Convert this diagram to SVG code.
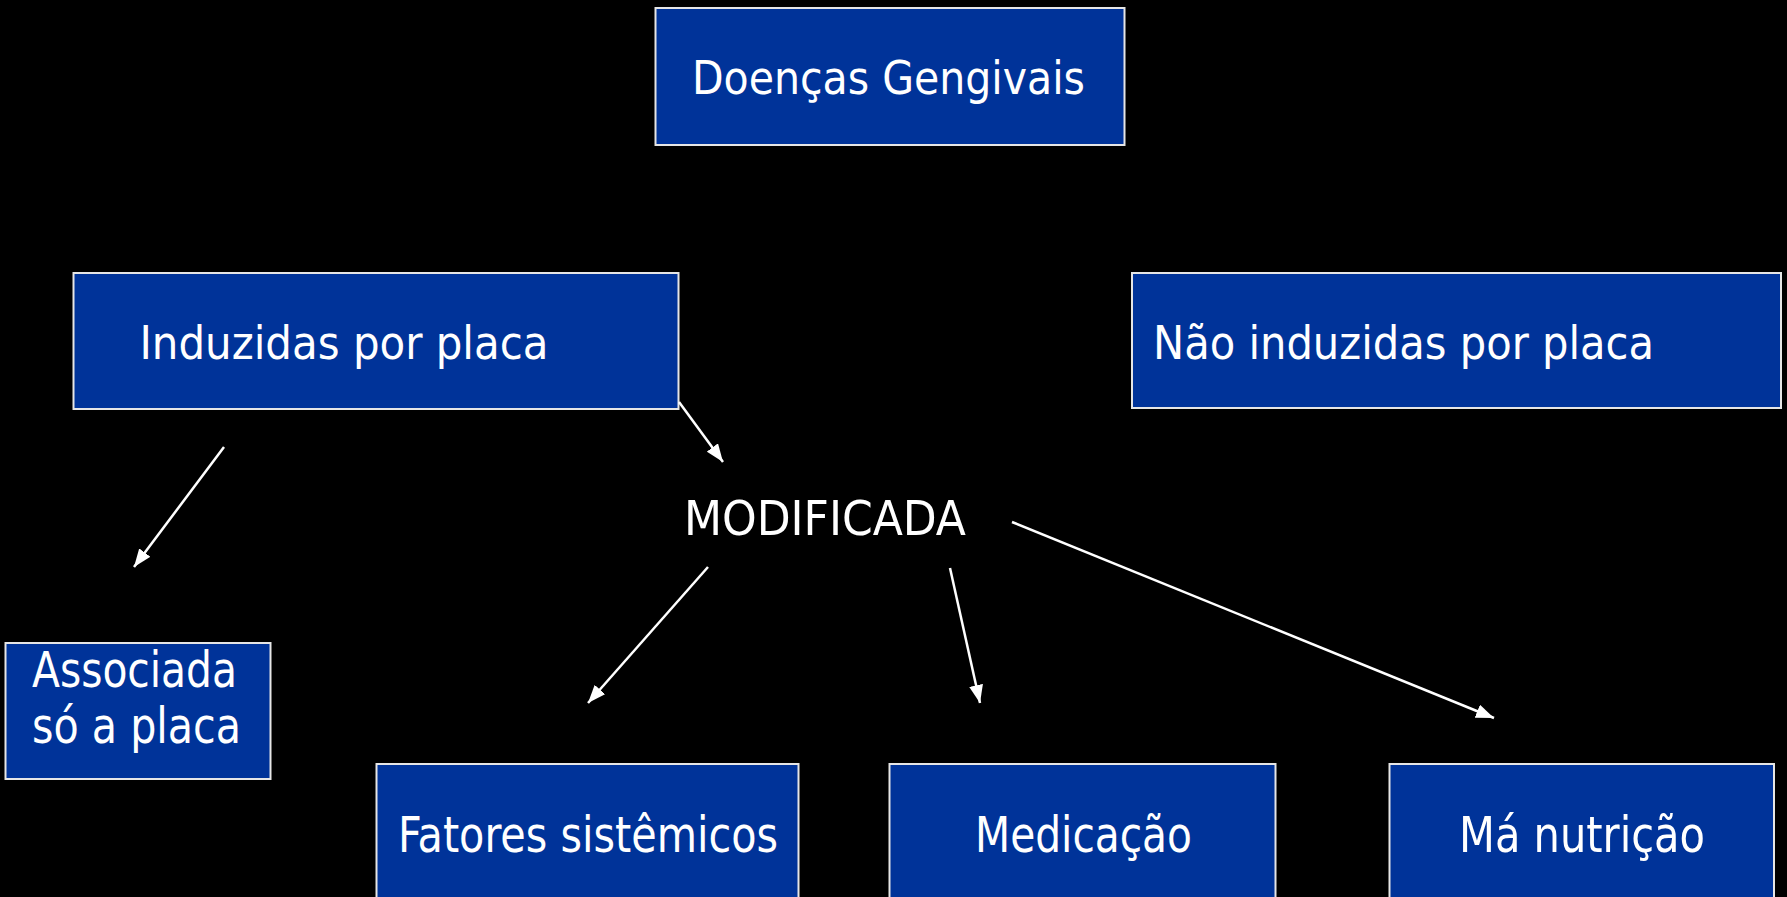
<svg xmlns="http://www.w3.org/2000/svg" width="1787" height="897" viewBox="0 0 1787 897">
<style>
.box{fill:#003399;stroke:#e6e6e6;stroke-width:2}
.t{fill:#ffffff;font-family:"DejaVu Sans Condensed","DejaVu Sans",Verdana,sans-serif;font-stretch:condensed}
.c{stroke:#ffffff;stroke-width:2.5;fill:none}
</style>
<defs>
<marker id="ah" markerUnits="userSpaceOnUse" markerWidth="19" markerHeight="14" refX="18" refY="7" orient="auto" viewBox="0 0 19 14">
<path d="M0,0 L18,7 L0,14 Z" fill="#ffffff"/>
</marker>
</defs>
<rect x="0" y="0" width="1787" height="897" fill="#000000"/>
<g id="doencas">
<rect class="box" x="655.5" y="8" width="469" height="137"/>
<text class="t" x="692" y="94" font-size="46" textLength="393" lengthAdjust="spacingAndGlyphs">Doenças Gengivais</text>
</g>
<g id="induzidas">
<rect class="box" x="73.5" y="273" width="605" height="136"/>
<text class="t" x="139.5" y="359" font-size="47" textLength="409" lengthAdjust="spacingAndGlyphs">Induzidas por placa</text>
</g>
<g id="nao-induzidas">
<rect class="box" x="1132" y="273" width="649" height="135"/>
<text class="t" x="1153" y="359" font-size="47" textLength="501" lengthAdjust="spacingAndGlyphs">Não induzidas por placa</text>
</g>
<g id="modificada">
<text class="t" x="684" y="535" font-size="48" textLength="282" lengthAdjust="spacingAndGlyphs">MODIFICADA</text>
</g>
<g id="associada">
<rect class="box" x="5.5" y="643" width="265" height="136"/>
<text class="t" x="32" y="687" font-size="50" textLength="205" lengthAdjust="spacingAndGlyphs">Associada</text>
<text class="t" x="32" y="743" font-size="50" textLength="209" lengthAdjust="spacingAndGlyphs">só a placa</text>
</g>
<g id="fatores">
<rect class="box" x="376.5" y="764" width="422" height="150"/>
<text class="t" x="398" y="852" font-size="50" textLength="380" lengthAdjust="spacingAndGlyphs">Fatores sistêmicos</text>
</g>
<g id="medicacao">
<rect class="box" x="889.5" y="764" width="386" height="150"/>
<text class="t" x="975" y="852" font-size="50" textLength="217" lengthAdjust="spacingAndGlyphs">Medicação</text>
</g>
<g id="ma-nutricao">
<rect class="box" x="1389.5" y="764" width="384.5" height="150"/>
<text class="t" x="1459" y="852" font-size="50" textLength="246" lengthAdjust="spacingAndGlyphs">Má nutrição</text>
</g>
<g id="connectors">
<line class="c" x1="679" y1="402" x2="723" y2="462" marker-end="url(#ah)"/>
<line class="c" x1="224" y1="447" x2="134" y2="567" marker-end="url(#ah)"/>
<line class="c" x1="708" y1="567" x2="588" y2="703" marker-end="url(#ah)"/>
<line class="c" x1="950" y1="568" x2="980" y2="703" marker-end="url(#ah)"/>
<line class="c" x1="1012" y1="522" x2="1494" y2="718" marker-end="url(#ah)"/>
</g>
</svg>
